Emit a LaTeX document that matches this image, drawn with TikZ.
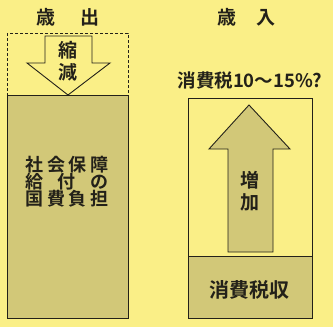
\documentclass[tikz,border=0pt]{standalone}
\usepackage{fontspec}
\setmainfont{Noto Sans CJK JP}[BoldFont={Noto Sans CJK JP Bold}]
\usepackage{tikz}
\definecolor{paper}{RGB}{250,239,135}
\definecolor{khaki}{RGB}{210,200,120}
\definecolor{ink}{RGB}{35,33,25}
\newcommand{\cell}[1]{\makebox[21.75pt]{#1}}
\tikzset{
    box/.style={draw=ink, line width=0.9pt},
    jp/.style={text=ink, inner sep=0pt, align=center, font=\bfseries\fontsize{19}{22}\selectfont},
    heading/.style={text=ink, inner sep=0pt, font=\bfseries\fontsize{19}{22}\selectfont},
}

\begin{document}
\begin{tikzpicture}[x=1pt,y=-1pt]
\fill[paper] (0,0) rectangle (333,327);
\useasboundingbox (0,0) rectangle (333,327);
% left side
\draw[box, dash pattern=on 3pt off 2pt] (7,33) rectangle (128,95);
\filldraw[box, fill=khaki] (7,95) rectangle (128,318);
\draw[box] (45,36) -- (92,36) -- (92,63) -- (110,63) -- (68,95) -- (27,63) -- (45,63) -- cycle;
% right side
\draw[box] (188,98) rectangle (312,318);
\filldraw[box, fill=khaki] (188,256) rectangle (312,318);
\filldraw[box, fill=khaki] (228,252) -- (228,149) -- (209,149) -- (249,105) -- (290,149) -- (273,149) -- (273,252) -- cycle;

\node[heading] (out) at (68,17) {歳\hspace{26pt}出};
\node[heading] (in) at (247,17) {歳\hspace{20pt}入};
\node[jp] (cut) at (68,61) {縮\\減};
\node[jp, font=\bfseries\fontsize{18}{17}\selectfont] (social) at (67,182) {\cell{社}\cell{会}\cell{保}\cell{障}\\給\hspace{15pt}付\hspace{15pt}の\\\cell{国}\cell{費}\cell{負}\cell{担}};
\node[jp, font=\bfseries\fontsize{18.5}{20}\selectfont] (rate) at (250,80) {消費税10～15\%?};
\node[jp] (rise) at (250,191) {増\\加};
\node[jp, font=\bfseries\fontsize{20}{22}\selectfont] (revenue) at (250,290) {消費税収};
\end{tikzpicture}
\end{document}
